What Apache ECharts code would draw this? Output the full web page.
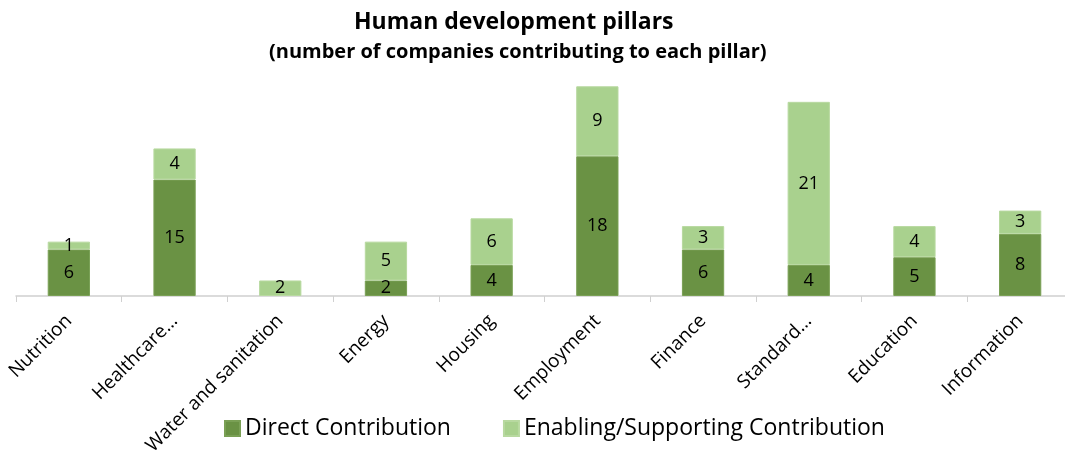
<!DOCTYPE html>
<html><head><meta charset="utf-8">
<script src="https://cdn.jsdelivr.net/npm/echarts@6/dist/echarts.min.js"></script>
<style>html,body{margin:0;padding:0;background:#fff}#c{width:1065px;height:450px}</style>
</head><body><div id="c"></div>
<script>
const categories = ["Nutrition","Healthcare…","Water and sanitation","Energy","Housing","Employment","Finance","Standard…","Education","Information"];
const direct = [6,15,0,2,4,18,6,4,5,8];
const enabling = [1,4,2,5,6,9,3,21,4,3];
const seriesNames = ["Direct Contribution","Enabling/Supporting Contribution"];
const font = "'Open Sans', 'Noto Sans', sans-serif";
const chart = echarts.init(document.getElementById('c'));
const lbl = {show:true, position:'inside', color:'#000', fontSize:18, fontFamily:font,
  formatter: p => p.value === 0 || p.value == null ? '' : p.value};
const nz = arr => arr.map(v => v === 0 ? null : v);
chart.setOption({
  animation:false,
  title:[
    {text:'Human development pillars', left:349, top:6, textStyle:{fontSize:23, fontWeight:'bold', fontFamily:font, color:'#000'}},
    {text:'(number of companies contributing to each pillar)', left:264, top:37, textStyle:{fontSize:20, fontWeight:'bold', fontFamily:font, color:'#000'}}
  ],
  legend:{bottom:5, left:219, itemWidth:15, itemHeight:15, itemGap:52, icon:'rect',
    textStyle:{fontSize:23, fontFamily:font, color:'#000'}, data:seriesNames},
  grid:{left:16, right:-8, top:63, bottom:154, containLabel:false, outerBoundsMode:'none'},
  xAxis:{type:'category', data:categories,
    axisLine:{lineStyle:{color:'#d0d0d0', width:1.5}},
    axisTick:{show:true, length:6, lineStyle:{color:'#d0d0d0'}},
    axisLabel:{rotate:45, interval:0, fontSize:19, fontFamily:font, color:'#000', margin:22}},
  yAxis:{type:'value', min:0, max:30, show:false, splitLine:{show:false}},
  series:[
    {name:seriesNames[0], type:'bar', stack:'a', data:nz(direct), barWidth:'40%',
      itemStyle:{color:'#6a9244', borderColor:'#7aa055', borderWidth:1}, label:lbl},
    {name:seriesNames[1], type:'bar', stack:'a', data:nz(enabling), barWidth:'40%',
      itemStyle:{color:'#a9d18e', borderColor:'#b8d9a0', borderWidth:1}, label:lbl}
  ]
});
</script></body></html>
